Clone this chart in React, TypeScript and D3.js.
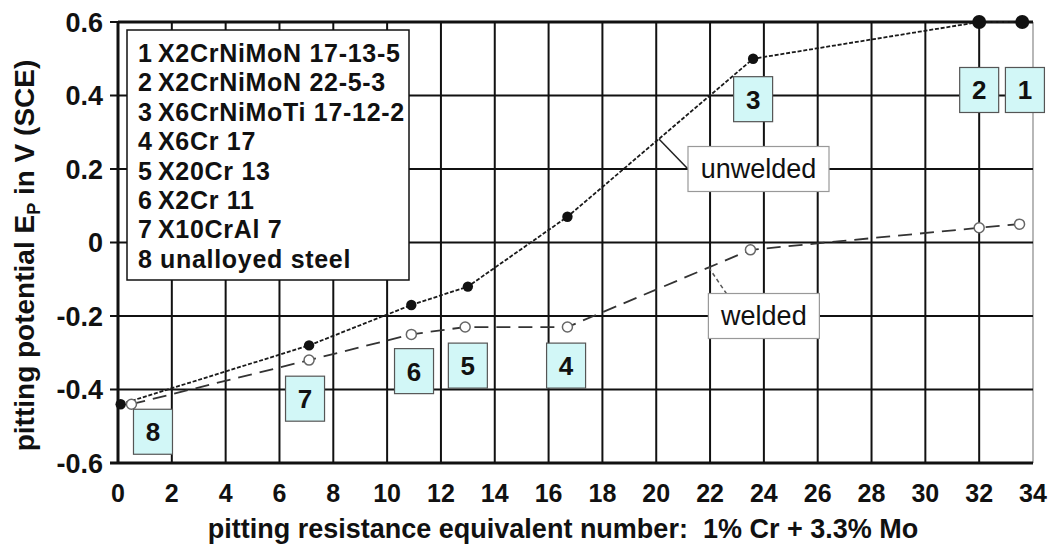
import React from "react";
import * as d3 from "d3";

// ---------- data ----------
const xTicks = [0, 2, 4, 6, 8, 10, 12, 14, 16, 18, 20, 22, 24, 26, 28, 30, 32, 34];
const yTicks = [-0.6, -0.4, -0.2, 0, 0.2, 0.4, 0.6];
const yTickLabels = ["-0.6", "-0.4", "-0.2", "0", "0.2", "0.4", "0.6"];

// unwelded (filled markers)
const unweldedX = [0.1, 7.1, 10.9, 13.0, 16.7, 23.6, 32.0, 33.6];
const unweldedY = [-0.44, -0.28, -0.17, -0.12, 0.07, 0.5, 0.6, 0.6];
// welded (open markers)
const weldedX = [0.5, 7.1, 10.9, 12.9, 16.7, 23.5, 32.0, 33.5];
const weldedY = [-0.44, -0.32, -0.25, -0.23, -0.23, -0.02, 0.04, 0.05];

const materialIds = ["1", "2", "3", "4", "5", "6", "7", "8"];
const materialNames = [
  "X2CrNiMoN 17-13-5",
  "X2CrNiMoN 22-5-3",
  "X6CrNiMoTi 17-12-2",
  "X6Cr 17",
  "X20Cr 13",
  "X2Cr 11",
  "X10CrAl 7",
  "unalloyed steel",
];
// number-box anchors (data units)
const labelX = [33.7, 32.0, 23.6, 16.65, 13.0, 11.0, 6.95, 1.3];
const labelY = [0.415, 0.415, 0.39, -0.335, -0.335, -0.35, -0.425, -0.515];

// callouts
const calloutText = ["unwelded", "welded"];
const calloutX = [23.8, 24.0];
const calloutY = [0.2, -0.2];
const calloutLeaderX = [20.1, 21.95];

const xTitle = "pitting resistance equivalent number:  1% Cr + 3.3% Mo";

const FONT = "'Liberation Sans', Arial, Helvetica, sans-serif";

export default function App() {
  const W = 1056;
  const H = 549;
  const m = { l: 118, r: 23, t: 22, b: 86 };
  const x = d3.scaleLinear().domain([0, 34]).range([m.l, W - m.r]);
  const y = d3.scaleLinear().domain([-0.6, 0.6]).range([H - m.b, m.t]);

  const unw = unweldedX.map((v, i) => [v, unweldedY[i]] as [number, number]);
  const wel = weldedX.map((v, i) => [v, weldedY[i]] as [number, number]);
  const line = d3
    .line<[number, number]>()
    .x((d) => x(d[0]))
    .y((d) => y(d[1]));

  const unwInterp = d3.scaleLinear().domain(unweldedX).range(unweldedY);
  const welInterp = d3.scaleLinear().domain(weldedX).range(weldedY);

  const boxW = 39;
  const boxH = 45;
  const calloutW = [141, 111];
  const calloutH = 45;

  // legend geometry
  const legL = 127, legT = 30, legR = 409, legB = 280;
  const legFirst = 62, legStep = 29.4;

  const x0 = x(0), x1 = x(34), yTop = y(0.6), yBot = y(-0.6);

  return (
    <svg
      width={W}
      height={H}
      style={{ position: "absolute", left: 0, top: 0, background: "#fff" }}
      fontFamily={FONT}
    >
      <rect x={0} y={0} width={W} height={H} fill="#fff" />
      {/* grid */}
      {xTicks.map((t) =>
        t === 34 ? null : (
          <line key={"gx" + t} x1={x(t)} x2={x(t)} y1={yTop} y2={yBot} stroke="#111" strokeWidth={2} />
        )
      )}
      <line x1={x1} x2={x1} y1={yTop} y2={yBot} stroke="#888" strokeWidth={1.2} />
      {yTicks.map((t) => (
        <line key={"gy" + t} x1={x0 - 8} x2={x1} y1={y(t)} y2={y(t)} stroke="#111" strokeWidth={2} />
      ))}
      {/* frame */}
      <line x1={x0} x2={x1} y1={yTop} y2={yTop} stroke="#111" strokeWidth={3} />
      <line x1={x0 - 8} x2={x1} y1={yBot} y2={yBot} stroke="#111" strokeWidth={3} />
      <line x1={x0} x2={x0} y1={yTop} y2={yBot} stroke="#111" strokeWidth={3} />

      {/* y tick labels */}
      {yTicks.map((t, i) => (
        <text key={"yl" + t} x={103} y={y(t) + 9.5} textAnchor="end" fontSize={27} fontWeight="bold" fill="#111">
          {yTickLabels[i]}
        </text>
      ))}
      {/* x tick labels */}
      {xTicks.map((t) => (
        <text key={"xl" + t} x={x(t)} y={502} textAnchor="middle" fontSize={25} fontWeight="bold" fill="#111">
          {t}
        </text>
      ))}
      {/* axis titles */}
      <text
        x={563}
        y={538}
        textAnchor="middle"
        fontSize={27}
        fontWeight="bold"
        fill="#111"
        style={{ whiteSpace: "pre" }}
      >
        {xTitle}
      </text>
      <text
        transform={`translate(34, ${(yTop + yBot) / 2 + 13}) rotate(-90)`}
        textAnchor="middle"
        fontSize={28}
        fontWeight="bold"
        fill="#111"
      >
        pitting potential E
        <tspan fontSize={18} dy={6}>P</tspan>
        <tspan dy={-6}> in V (SCE)</tspan>
      </text>

      {/* legend */}
      <rect x={legL} y={legT} width={legR - legL} height={legB - legT} fill="#fff" stroke="#111" strokeWidth={1.5} />
      {materialIds.map((id, i) => (
        <g key={"lg" + id} fontSize={25} fontWeight="bold" fill="#111" letterSpacing={0.7}>
          <text x={138} y={legFirst + i * legStep}>{id}</text>
          <text x={id === "8" ? 160 : 158} y={legFirst + i * legStep}>{materialNames[i]}</text>
        </g>
      ))}

      {/* curves */}
      <path d={line(wel) || ""} fill="none" stroke="#333" strokeWidth={1.8} strokeDasharray="14,8" />
      <path d={line(unw) || ""} fill="none" stroke="#1a1a1a" strokeWidth={1.8} strokeDasharray="4,1.8" />

      {/* callout leaders */}
      <line
        x1={x(calloutLeaderX[0])}
        y1={y(unwInterp(calloutLeaderX[0]))}
        x2={x(calloutX[0]) - calloutW[0] / 2}
        y2={y(calloutY[0])}
        stroke="#222"
        strokeWidth={1.5}
      />
      <line
        x1={x(calloutLeaderX[1])}
        y1={y(welInterp(calloutLeaderX[1]))}
        x2={x(calloutX[1]) - calloutW[1] / 2 + 18}
        y2={y(calloutY[1]) - calloutH / 2}
        stroke="#555"
        strokeWidth={1.5}
        strokeDasharray="4,3"
      />
      {/* callout boxes */}
      {calloutText.map((t, i) => (
        <g key={"co" + t}>
          <rect
            x={x(calloutX[i]) - calloutW[i] / 2}
            y={y(calloutY[i]) - calloutH / 2}
            width={calloutW[i]}
            height={calloutH}
            fill="#fff"
            stroke="#999"
            strokeWidth={1.2}
          />
          <text x={x(calloutX[i])} y={y(calloutY[i]) + 9} textAnchor="middle" fontSize={27} fill="#111">
            {t}
          </text>
        </g>
      ))}

      {/* markers */}
      {wel.map((d, i) => (
        <circle key={"wm" + i} cx={x(d[0])} cy={y(d[1])} r={5} fill="#fff" stroke="#666" strokeWidth={1.5} />
      ))}
      {unw.map((d, i) => (
        <circle key={"um" + i} cx={x(d[0])} cy={y(d[1])} r={d[1] >= 0.6 ? 7 : 5.2} fill="#111" />
      ))}

      {/* number boxes */}
      {materialIds.map((id, i) => (
        <g key={"nb" + id}>
          <rect
            x={x(labelX[i]) - boxW / 2}
            y={y(labelY[i]) - boxH / 2}
            width={boxW}
            height={boxH}
            fill="#d2f7f7"
            stroke="#555"
            strokeWidth={1.2}
          />
          <text
            x={x(labelX[i])}
            y={y(labelY[i]) + 9.5}
            textAnchor="middle"
            fontSize={26}
            fontWeight="bold"
            fill="#111"
          >
            {id}
          </text>
        </g>
      ))}
    </svg>
  );
}
